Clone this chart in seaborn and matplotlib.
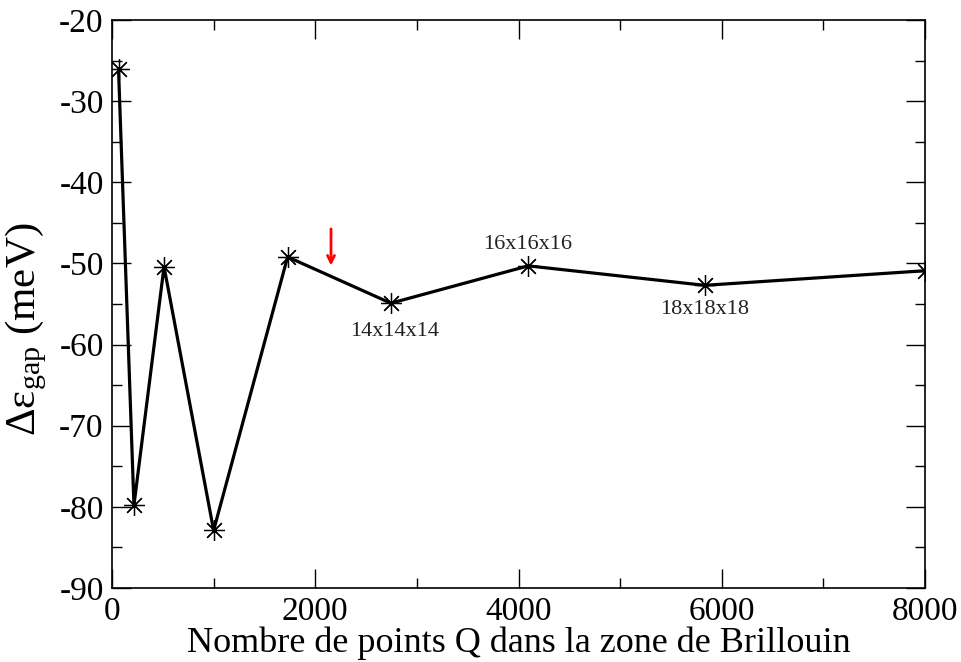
import matplotlib
matplotlib.use("Agg")
import matplotlib.pyplot as plt
from matplotlib.ticker import MultipleLocator
import seaborn as sns
import pandas as pd

# Number of Q points in the Brillouin zone (n x n x n grids) and gap correction
q_points = [64, 216, 512, 1000, 1728, 2744, 4096, 5832, 8000]
gap_mev = [-26.0, -79.8, -50.4, -82.9, -49.2, -54.9, -50.3, -52.7, -50.9]

grid_labels = ["14x14x14", "16x16x16", "18x18x18"]
grid_label_x = [2785, 4094, 5836]
grid_label_y = [-58.4, -47.7, -55.7]

sns.set_style("ticks")
plt.rcParams["font.family"] = ["Liberation Serif", "DejaVu Serif"]
plt.rcParams["mathtext.fontset"] = "custom"
plt.rcParams["mathtext.rm"] = "Liberation Serif"
plt.rcParams["mathtext.it"] = "Liberation Serif:italic"
plt.rcParams["axes.unicode_minus"] = False

df = pd.DataFrame({"Q": q_points, "gap": gap_mev})

fig = plt.figure(figsize=(9.61, 6.62), dpi=100)
ax = fig.add_axes([112 / 961, 1 - 588 / 662, 813 / 961, 568 / 662])

sns.lineplot(data=df, x="Q", y="gap", ax=ax, color="black", linewidth=2.3,
             marker=(8, 2, 0), markersize=15, markeredgewidth=0.9,
             markeredgecolor="black", sort=False)

for lab, lx, ly in zip(grid_labels, grid_label_x, grid_label_y):
    ax.text(lx, ly, lab, ha="center", va="center", fontsize=16,
            color="#222222")

ax.annotate("", xy=(2155, -50.6), xytext=(2155, -45.4),
            arrowprops=dict(arrowstyle="->,head_length=0.5,head_width=0.25",
                            color="red", lw=2.0))

ax.set_xlim(0, 8000)
ax.set_ylim(-90, -20)
ax.xaxis.set_major_locator(MultipleLocator(2000))
ax.xaxis.set_minor_locator(MultipleLocator(1000))
ax.yaxis.set_major_locator(MultipleLocator(10))
ax.yaxis.set_minor_locator(MultipleLocator(5))
ax.tick_params(which="both", direction="in", top=True, right=True,
               color="black", width=1.0, labelsize=24, labelcolor="black")
ax.tick_params(which="major", length=14, pad=6)
ax.tick_params(which="minor", length=7)
for s in ax.spines.values():
    s.set_linewidth(1.2)
    s.set_color("black")

ax.set_xlabel("Nombre de points Q dans la zone de Brillouin", fontsize=26,
              labelpad=0, color="black")
ax.set_ylabel(r"Δε$_{\mathrm{gap}}$ (meV)", fontsize=31, color="black")
ax.yaxis.set_label_coords(-0.078, 0.455)

fig.savefig("out.png", dpi=100)
